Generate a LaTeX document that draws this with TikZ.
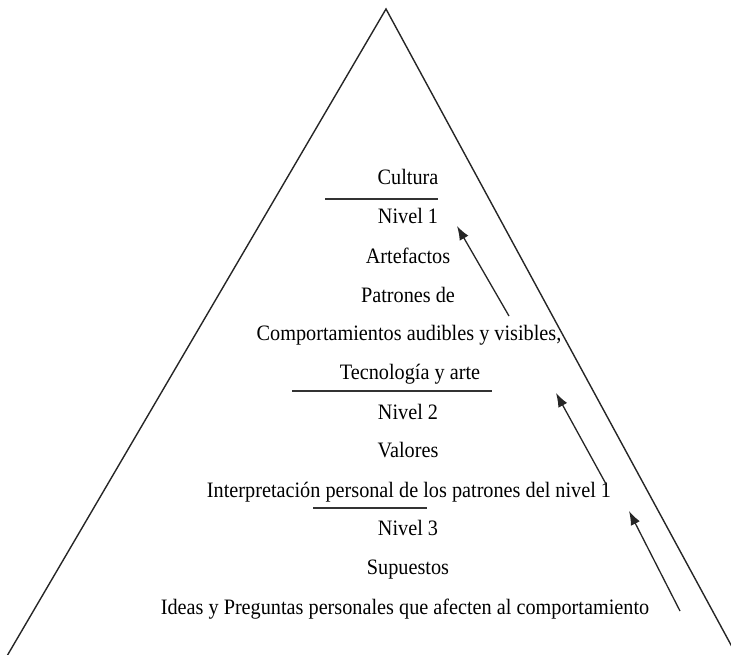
\documentclass[tikz,border=0pt]{standalone}
\usepackage{fontspec}
\setmainfont{Liberation Serif}
\usetikzlibrary{arrows.meta}
\newcommand{\sqz}[1]{\scalebox{0.92}[1]{#1}}
\tikzset{
  txt/.style={anchor=base, inner sep=0pt, font=\fontsize{22}{26}\selectfont},
  side/.style={line width=1.4pt, black!85},
  rule/.style={line width=1.6pt, black!80},
  up/.style={line width=1.3pt, black!85, -{Latex[length=14pt,width=10pt]}}
}
\begin{document}
\begin{tikzpicture}[x=1pt,y=-1pt]
\useasboundingbox (0,0) rectangle (731,655);
% pyramid sides
\coordinate (apex) at (386,9);
\coordinate (bl) at (7,656);
\coordinate (br) at (737,656);
\draw[side] (bl) -- (apex) -- (br);
% texts
\node[txt] (cult) at (408,185) {\sqz{Cultura}};
\node[txt] (n1) at (408,224) {\sqz{Nivel 1}};
\node[txt] (art) at (408,264) {\sqz{Artefactos}};
\node[txt] (pat) at (408,302) {\sqz{Patrones de}};
\node[txt] (comp) at (409,340) {\sqz{Comportamientos audibles y visibles,}};
\node[txt] (tec) at (410,379) {\sqz{Tecnología y arte}};
\node[txt] (n2) at (408,419) {\sqz{Nivel 2}};
\node[txt] (val) at (408,457) {\sqz{Valores}};
\node[txt] (int) at (409,497) {\sqz{Interpretación personal de los patrones del nivel 1}};
\node[txt] (n3) at (408,535) {\sqz{Nivel 3}};
\node[txt] (sup) at (408,574) {\sqz{Supuestos}};
\node[txt] (ideas) at (405,614) {\sqz{Ideas y Preguntas personales que afecten al comportamiento}};
% separator rules
\coordinate (r1a) at (325,199); \coordinate (r1b) at (438,199);
\coordinate (r2a) at (292,391); \coordinate (r2b) at (492,391);
\coordinate (r3a) at (313,508); \coordinate (r3b) at (427,508);
\draw[rule] (r1a) -- (r1b);
\draw[rule] (r2a) -- (r2b);
\draw[rule] (r3a) -- (r3b);
% arrows
\coordinate (a1s) at (509,316); \coordinate (a1e) at (457,226);
\coordinate (a2s) at (606,484); \coordinate (a2e) at (556,393);
\coordinate (a3s) at (680,611); \coordinate (a3e) at (629,511);
\draw[up] (a1s) -- (a1e);
\draw[up] (a2s) -- (a2e);
\draw[up] (a3s) -- (a3e);
\end{tikzpicture}
\end{document}
